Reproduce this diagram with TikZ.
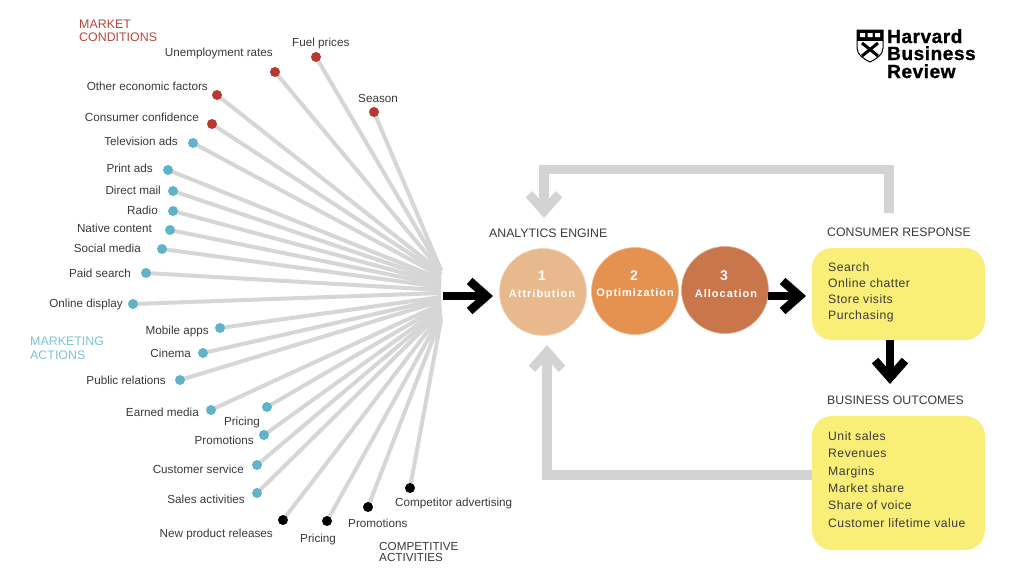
\documentclass[tikz,border=0pt]{standalone}
\usepackage{fontspec}
\setmainfont{Liberation Sans}
\usetikzlibrary{arrows.meta}
\definecolor{fan}{HTML}{D6D6D6}
\definecolor{loopg}{HTML}{D3D3D3}
\definecolor{mkt}{HTML}{B8392E}
\definecolor{act}{HTML}{5FB4CA}
\definecolor{actt}{HTML}{7CC3D6}
\definecolor{mktt}{HTML}{B5473C}
\definecolor{ink}{HTML}{3A3A3A}
\definecolor{yel}{HTML}{F9EE78}
\definecolor{ca}{HTML}{E8B98C}
\definecolor{cb}{HTML}{E5914F}
\definecolor{cc}{HTML}{C9764C}
\tikzset{
 x=1pt,y=-1pt,
 lab/.style={font=\fontsize{11.7}{13}\selectfont,text=ink,inner sep=0pt,anchor=base west},
 ttl/.style={font=\fontsize{12.4}{14}\selectfont,inner sep=0pt,anchor=base west},
 head/.style={font=\fontsize{12.3}{14}\selectfont,text=ink,inner sep=0pt,anchor=base west},
 item/.style={font=\fontsize{12.2}{13}\selectfont\addfontfeatures{LetterSpace=4},text=ink,inner sep=0pt,anchor=base west},
 rdot/.style={circle,fill=mkt,minimum size=10pt,inner sep=0pt},
 tdot/.style={circle,fill=act,minimum size=10pt,inner sep=0pt},
 kdot/.style={circle,fill=black,minimum size=10pt,inner sep=0pt},
 spoke/.style={draw=fan,line width=4pt},
 circ/.style={circle,inner sep=0pt,minimum size=87pt,draw=#1!60!white,fill=#1,line width=.6pt},
 ybox/.style={fill=yel,rounded corners=20pt,inner sep=0pt},
 ctext/.style={text=white,font=\fontsize{11}{12}\selectfont\bfseries\addfontfeatures{LetterSpace=9},inner sep=0pt},
 cnum/.style={text=white,font=\fontsize{14}{16}\selectfont\bfseries,inner sep=0pt},
 blk/.style={draw=black,line width=8pt,-{Straight Barb[length=17pt,width=30pt,line width=8.5pt]}},
 gry/.style={draw=loopg,line width=9.5pt,-{Straight Barb[length=17pt,width=30pt,line width=9pt]}},
 logo/.style={font=\fontsize{19}{17}\selectfont\bfseries\addfontfeatures{FakeBold=1.2,LetterSpace=3},text=black,inner sep=0pt,anchor=base west},
}
\begin{document}
\begin{tikzpicture}
\useasboundingbox (0,0) rectangle (1024,579);
\fill[white] (0,0) rectangle (1024,579);
% fan
\foreach \n/\xx/\yy/\st/\hy in {
 season/374/112/rdot/270, fuel/316/57/rdot/270, unemp/275/72/rdot/271,
 other/217/95/rdot/272, conf/212/124/rdot/274, tv/193/143/tdot/276,
 print/168/170/tdot/279, direct/173/191/tdot/281, radio/173/211/tdot/283,
 native/170/230/tdot/285, social/162/249/tdot/287, paid/146/273/tdot/290,
 online/133/304/tdot/293, mobile/220/328/tdot/297, cinema/203/353/tdot/299,
 pr/180/380/tdot/301, earned/211/410/tdot/304, pricea/267/407/tdot/306,
 promoa/264/435/tdot/308, cust/257/465/tdot/310, sales/257/493/tdot/312,
 newp/283/520/kdot/314, priceb/327/521/kdot/316, promob/368/507/kdot/318,
 comp/410/488/kdot/320}{
 \coordinate (h\n) at (441,\hy);
 \coordinate (c\n) at (\xx,\yy);
 \draw[spoke] (c\n) -- (h\n);
 \node[\st] (\n) at (\xx,\yy) {};
}
% labels
\node[ttl,text=mktt] (t1) at (79,28) {MARKET};
\node[ttl,text=mktt] (t2) at (79,41) {CONDITIONS};
\node[lab,anchor=base east] (l1) at (273,56) {Unemployment rates};
\node[lab] (l2) at (292,46) {Fuel prices};
\node[lab] (l3) at (358,102) {Season};
\node[lab,anchor=base east] (l4) at (208,90) {Other economic factors};
\node[lab,anchor=base east] (l5) at (199,121) {Consumer confidence};
\node[lab,anchor=base east] (l6) at (178,145) {Television ads};
\node[lab,anchor=base east] (l7) at (153,172) {Print ads};
\node[lab,anchor=base east] (l8) at (161,194) {Direct mail};
\node[lab,anchor=base east] (l9) at (158,214) {Radio};
\node[lab,anchor=base east] (l10) at (152,232) {Native content};
\node[lab,anchor=base east] (l11) at (141,252) {Social media};
\node[lab,anchor=base east] (l12) at (131,277) {Paid search};
\node[lab,anchor=base east] (l13) at (123,307) {Online display};
\node[lab,anchor=base east] (l14) at (209,334) {Mobile apps};
\node[lab,anchor=base east] (l15) at (191,357) {Cinema};
\node[lab,anchor=base east] (l16) at (166,384) {Public relations};
\node[lab,anchor=base east] (l17) at (199,416) {Earned media};
\node[lab,anchor=base east] (l18) at (260,425) {Pricing};
\node[lab,anchor=base east] (l19) at (254,444) {Promotions};
\node[lab,anchor=base east] (l20) at (244,473) {Customer service};
\node[lab,anchor=base east] (l21) at (245,503) {Sales activities};
\node[lab,anchor=base east] (l22) at (273,537) {New product releases};
\node[lab] (l23) at (300,542) {Pricing};
\node[lab] (l24) at (348,527) {Promotions};
\node[lab] (l25) at (395,506) {Competitor advertising};
\node[lab] (t3) at (379,550) {COMPETITIVE};
\node[lab] (t4) at (379,561) {ACTIVITIES};
\node[ttl,text=actt] (t5) at (30,345) {MARKETING};
\node[ttl,text=actt] (t6) at (30,359) {ACTIONS};
% circles
\node[circ=ca] (c1) at (543,292) {};
\node[circ=cb] (c2) at (635,291) {};
\node[circ=cc] (c3) at (725,290) {};
\node[cnum] (n1) at (542,276) {1};
\node[cnum] (n2) at (634,276) {2};
\node[cnum] (n3) at (724,276) {3};
\node[ctext] (a1) at (542,294) {Attribution};
\node[ctext] (a2) at (635,294) {Optimization};
\node[ctext] (a3) at (726,294) {Allocation};
\node[head] (e1) at (489,237) {ANALYTICS ENGINE};
\node[head] (e2) at (827,236) {CONSUMER RESPONSE};
\node[head] (e3) at (827,404) {BUSINESS OUTCOMES};
% boxes
\node[ybox,minimum width=173pt,minimum height=92pt] (b1) at (898.5,294) {};
\node[ybox,minimum width=173pt,minimum height=134pt] (b2) at (898.5,483) {};
\node[item] (i1) at (828,271) {Search};
\node[item] (i2) at (828,287) {Online chatter};
\node[item] (i3) at (828,303) {Store visits};
\node[item] (i4) at (828,319) {Purchasing};
\node[item] (j1) at (828,440) {Unit sales};
\node[item] (j2) at (828,457) {Revenues};
\node[item] (j3) at (828,475) {Margins};
\node[item] (j4) at (828,492) {Market share};
\node[item] (j5) at (828,509) {Share of voice};
\node[item] (j6) at (828,527) {Customer lifetime value};
% arrows
\coordinate (fanend) at (443,296);
\coordinate (a1in) at (493,296);
\coordinate (b1in) at (806,296);
\coordinate (a3out) at (768,296);
\coordinate (d0) at (890,340);
\coordinate (d1) at (890,384);
\draw[blk] (fanend) -- (a1in);
\draw[blk] (a3out) -- (b1in);
\draw[blk] (d0) -- (d1);
\coordinate (g0) at (889,213);
\coordinate (g1) at (889,169.5);
\coordinate (g2) at (544,169.5);
\coordinate (g3) at (544,218);
\draw[gry] (g0) -- (g1) -- (g2) -- (g3);
\coordinate (k0) at (812,475);
\coordinate (k1) at (547,475);
\coordinate (k2) at (547,345);
\draw[gry] (k0) -- (k1) -- (k2);
% logo
\draw[black,line width=1pt,fill=white] (857,30) -- (883,30) -- (883,48) .. controls (883,55) and (876,59) .. (870,62) .. controls (864,59) and (857,55) .. (857,48) -- cycle;
\fill[black] (857,30) rectangle (883,41);
\fill[white] (860,33) rectangle (865,37) (867.5,33) rectangle (872.5,37) (875,33) rectangle (880,37);
\draw[black,line width=3pt] (862,43) -- (878,56) (878,43) -- (862,56);
\node[logo] (h1) at (887,43) {Harvard};
\node[logo] (h2) at (887,60) {Business};
\node[logo] (h3) at (887,78) {Review};
\end{tikzpicture}
\end{document}
